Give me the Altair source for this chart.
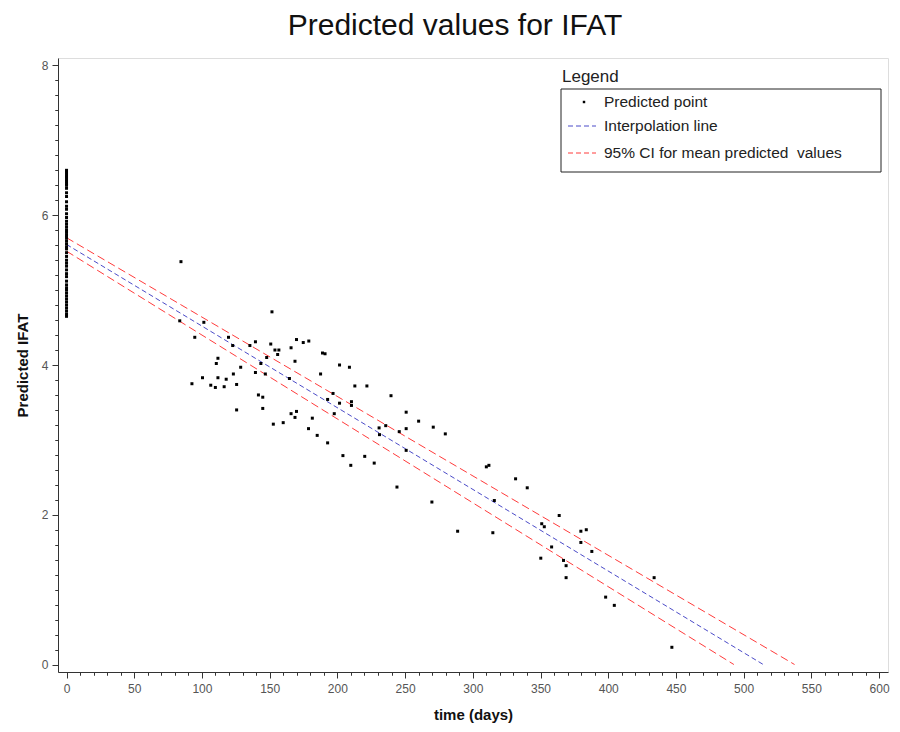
import altair as alt
import pandas as pd

# ---------------- data ----------------
col_y = [6.60, 6.58, 6.55, 6.52, 6.50, 6.47, 6.45, 6.42, 6.40, 6.36, 6.30, 6.25,
         6.18, 6.12, 6.08, 6.02, 5.97, 5.92, 5.88, 5.84, 5.80, 5.77, 5.73, 5.70,
         5.66, 5.62, 5.58, 5.55, 5.50, 5.45, 5.40, 5.36, 5.32, 5.27, 5.22, 5.18,
         5.12, 5.07, 5.03, 5.00, 4.96, 4.92, 4.88, 4.84, 4.80, 4.76, 4.72, 4.68, 4.65]

pts_x = [84.5, 83.6, 94.7, 101.4, 92.6, 100.4, 106.5, 109.9, 110.6, 111.8, 111.8, 116.4,
         117.9, 119.6, 122.7, 123.2, 125.6, 125.6, 128.6, 135.4, 139.5, 139.5, 141.7, 143.5,
         144.9, 144.9, 146.8, 147.8, 150.8, 151.7, 152.7, 153.9, 155.9, 156.8, 160.0, 164.6,
         165.8, 165.8, 168.7, 168.7, 169.8, 169.8, 174.8, 178.9, 178.7, 181.5, 185.1, 187.6,
         189.0, 190.9, 192.8, 192.8, 196.8, 197.7, 201.6, 201.6, 204.1, 208.9, 209.9, 210.4,
         210.4, 212.9, 220.2, 221.8, 227.2, 230.8, 231.1, 235.7, 239.6, 244.0, 245.7, 250.8,
         250.8, 250.8, 260.0, 269.8, 270.8, 279.7, 288.8, 310.0, 311.9, 314.8, 315.9, 331.6,
         340.2, 350.2, 350.9, 352.8, 358.2, 363.8, 367.0, 368.9, 368.9, 379.8, 379.8, 383.8,
         387.9, 398.1, 404.5, 433.9, 447.0]
pts_y = [5.38, 4.59, 4.37, 4.57, 3.75, 3.83, 3.73, 3.70, 4.02, 4.09, 3.83, 3.71,
         3.81, 4.37, 4.26, 3.88, 3.74, 3.40, 3.97, 4.26, 4.31, 3.90, 3.60, 4.02,
         3.57, 3.42, 3.88, 4.10, 4.28, 4.71, 3.21, 4.20, 4.14, 4.20, 3.23, 3.82,
         4.23, 3.35, 4.05, 3.30, 4.34, 3.38, 4.30, 4.32, 3.15, 3.29, 3.06, 3.88,
         4.16, 4.15, 3.54, 2.96, 3.62, 3.35, 4.00, 3.49, 2.79, 3.97, 2.66, 3.51,
         3.46, 3.72, 2.78, 3.72, 2.69, 3.16, 3.07, 3.19, 3.59, 2.37, 3.11, 3.37,
         3.15, 2.86, 3.25, 2.17, 3.17, 3.08, 1.78, 2.64, 2.66, 1.76, 2.19, 2.48,
         2.36, 1.42, 1.88, 1.84, 1.57, 1.99, 1.39, 1.32, 1.16, 1.78, 1.63, 1.80,
         1.51, 0.90, 0.79, 1.16, 0.23]

fit_x = [0, 514.5]
fit_y = [5.61, 0.0]
upper_x = [0, 537.6]
upper_y = [5.70, 0.0]
lower_x = [0, 492.8]
lower_y = [5.52, 0.0]

x_major = [0, 50, 100, 150, 200, 250, 300, 350, 400, 450, 500, 550, 600]
x_minor = list(range(0, 601, 10))
y_major = [0, 2, 4, 6, 8]
y_minor = [round(i * 0.2, 1) for i in range(41)]

legend_labels = ["Predicted point", "Interpolation line",
                 "95% CI for mean predicted\u00a0 values"]

# ---------------- frames ----------------
points = pd.DataFrame({"x": [0.0] * len(col_y) + pts_x, "y": col_y + pts_y})
fit = pd.DataFrame({"x": fit_x, "y": fit_y})
ci = pd.DataFrame({"x": upper_x + lower_x, "y": upper_y + lower_y,
                   "band": ["upper"] * 2 + ["lower"] * 2})
one = pd.DataFrame({"k": [0]})

FONT = "Liberation Sans"
BLUE = "#4b4bc8"
RED = "#ff3b3b"

xscale = alt.Scale(domain=[-6.3, 606.6], nice=False, zero=False)
yscale = alt.Scale(domain=[-0.1, 8.1], nice=False, zero=False)

x_major_axis = alt.Axis(values=x_major, orient="bottom", title="time (days)", grid=False,
                        tickSize=6, tickColor="#333", domainColor="#333",
                        labelFont=FONT, labelFontSize=12, labelColor="#555", labelPadding=5,
                        titleFont=FONT, titleFontSize=15, titleFontWeight="bold",
                        titleColor="#111", titlePadding=13)
y_major_axis = alt.Axis(values=y_major, orient="left", title="Predicted IFAT", grid=False,
                        tickSize=6, tickColor="#333", domainColor="#333",
                        labelFont=FONT, labelFontSize=12, labelColor="#555", labelPadding=4,
                        titleFont=FONT, titleFontSize=15, titleFontWeight="bold",
                        titleColor="#111", titlePadding=11)
x_minor_axis = alt.Axis(values=x_minor, orient="bottom", title="", labels=False, grid=False,
                        domain=False, tickSize=3, tickColor="#333")
y_minor_axis = alt.Axis(values=y_minor, orient="left", title="", labels=False, grid=False,
                        domain=False, tickSize=3, tickColor="#333")

fit_layer = alt.Chart(fit).mark_line(color=BLUE, strokeWidth=1, strokeDash=[5, 3]).encode(
    x=alt.X("x:Q", scale=xscale, axis=x_minor_axis),
    y=alt.Y("y:Q", scale=yscale, axis=y_minor_axis),
)
ci_layer = alt.Chart(ci).mark_line(color=RED, strokeWidth=1, strokeDash=[8, 4]).encode(
    x=alt.X("x:Q", scale=xscale, axis=x_minor_axis),
    y=alt.Y("y:Q", scale=yscale, axis=y_minor_axis),
    detail="band:N",
)
pts_layer = alt.Chart(points).mark_square(size=9, color="black", opacity=1).encode(
    x=alt.X("x:Q", scale=xscale, axis=x_major_axis),
    y=alt.Y("y:Q", scale=yscale, axis=y_major_axis),
)

# ---------------- legend (decoration, pixel placed) ----------------
leg_box = alt.Chart(one).mark_rect(fill="white", stroke="#222", strokeWidth=1).encode(
    x=alt.value(503), x2=alt.value(823), y=alt.value(31), y2=alt.value(114))
leg_title = alt.Chart(one).mark_text(text="Legend", font=FONT, fontSize=17, align="left",
                                     baseline="alphabetic", color="#222").encode(
    x=alt.value(504), y=alt.value(24))
leg_pt = alt.Chart(one).mark_square(size=6, color="black", opacity=1).encode(
    x=alt.value(526), y=alt.value(44))
leg_blue = alt.Chart(one).mark_rule(color=BLUE, strokeWidth=1, strokeDash=[5, 3]).encode(
    x=alt.value(510), x2=alt.value(538), y=alt.value(68))
leg_red = alt.Chart(one).mark_rule(color=RED, strokeWidth=1, strokeDash=[5, 3]).encode(
    x=alt.value(510), x2=alt.value(538), y=alt.value(95))
leg_t = [
    alt.Chart(one).mark_text(text=lab, font=FONT, fontSize=15.5, align="left",
                             baseline="middle", color="#222").encode(
        x=alt.value(546), y=alt.value(yy))
    for lab, yy in zip(legend_labels, [44, 68, 95])
]

chart = alt.layer(
    fit_layer, ci_layer, pts_layer, leg_box, leg_title, leg_pt, leg_blue, leg_red, *leg_t
).resolve_axis(x="independent", y="independent").properties(
    width=830,
    height=614,
    autosize=alt.AutoSizeParams(type="none"),
    padding={"left": 50, "top": 50, "right": 4, "bottom": 52},
    title=alt.TitleParams("Predicted values for IFAT", font=FONT, fontSize=30,
                          fontWeight="normal", color="#111", anchor="middle",
                          offset=17, dx=-18),
).configure_view(stroke="#333", strokeWidth=1).configure(background="white")

chart.save("out.html", embed_options={"renderer": "svg", "actions": False})
